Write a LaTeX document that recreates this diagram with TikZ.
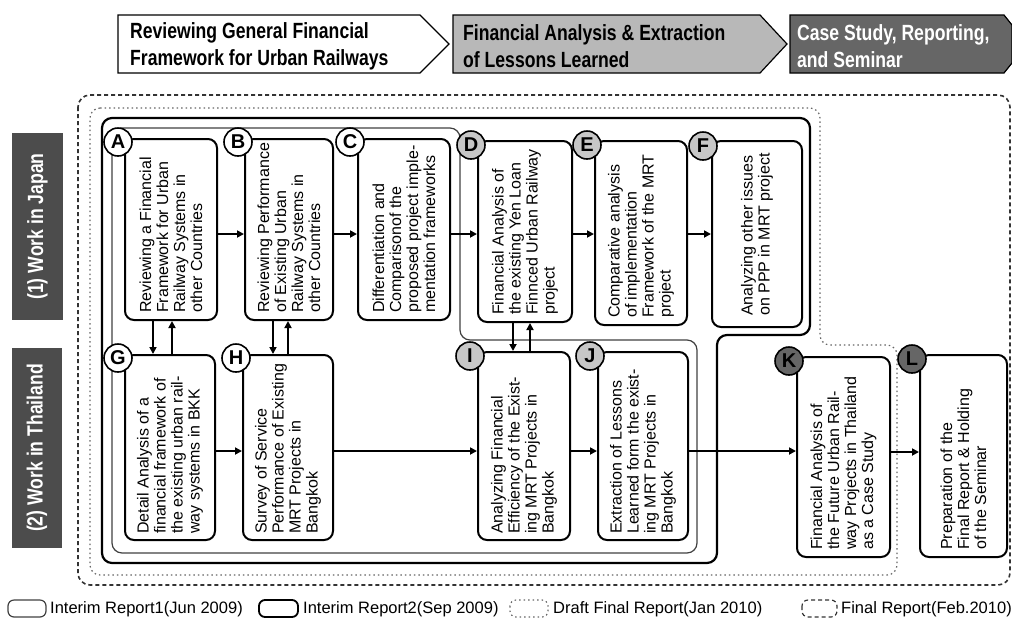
\documentclass[tikz,border=0pt]{standalone}
\usepackage{fontspec}
\setmainfont{Liberation Sans}
\newfontfamily\hfont[FakeStretch=0.8]{Liberation Sans}
\usetikzlibrary{arrows.meta,calc}
\begin{document}
\begin{tikzpicture}[x=1pt,y=-1pt,
  box/.style={draw, line width=2pt, rounded corners=9pt, fill=white, inner sep=0pt},
  txt/.style={rotate=90, anchor=west, align=left, inner sep=0pt, font=\fontsize{16}{17}\selectfont},
  cir/.style={circle, draw, line width=1.6pt, minimum size=28pt, inner sep=0pt, font=\bfseries\fontsize{20}{20}\selectfont},
  cw/.style={cir, fill=white},
  cg/.style={cir, fill=black!22},
  cd/.style={cir, fill=black!60},
  arr/.style={line width=1.7pt, -{Triangle[length=7pt,width=7pt]}},
  cA/.style={draw=black!75, line width=1.2pt, rounded corners=10pt},
  cB/.style={draw=black, line width=2.2pt, rounded corners=10pt},
  cC/.style={draw=black!60, line width=1.2pt, dash pattern=on 1.5pt off 3pt, rounded corners=10pt},
  cD/.style={draw=black!80, line width=1.6pt, dash pattern=on 4pt off 3pt, rounded corners=12pt},
  hdr/.style={draw, line width=1.2pt},
  htxt/.style={anchor=west, align=left, inner sep=0pt, font=\hfont\bfseries\fontsize{22}{27}\selectfont},
  side/.style={fill=black!70, inner sep=0pt},
  stxt/.style={rotate=90, text=white, inner sep=0pt, font=\hfont\bfseries\fontsize{22}{24}\selectfont},
  leg/.style={anchor=base west, inner sep=0pt, font=\fontsize{16.5}{18}\selectfont}
]
\useasboundingbox (0,0) rectangle (1012,625);

% header chevrons
\draw[hdr, fill=white] (118,15) -- (420,15) -- (449,44) -- (420,73) -- (118,73) -- cycle;
\node[htxt] (h1) at (130,46) {Reviewing General Financial\\Framework for Urban Railways};
\draw[hdr, fill=black!28] (453,15) -- (760,15) -- (787,44) -- (760,73) -- (453,73) -- cycle;
\node[htxt] (h2) at (463,46) {Financial Analysis \& Extraction\\of Lessons Learned};
\draw[hdr, fill=black!60] (790,15) -- (1004,15) -- (1012,25) -- (1012,63) -- (1004,73) -- (790,73) -- cycle;
\node[htxt, text=white] (h3) at (797,46) {Case Study, Reporting,\\and Seminar};

% side labels
\node[side, minimum width=51pt, minimum height=187pt] (jp) at (37.5,226.5) {};
\node[stxt] (jpt) at (jp.center) {(1) Work in Japan};
\node[side, minimum width=50pt, minimum height=200pt] (th) at (37,448) {};
\node[stxt] (tht) at (th.center) {(2) Work in Thailand};

% report contours
\draw[cD] (78,95) rectangle (1010,585);
\draw[cC] (90,108) -- (820,108) -- (820,345) -- (897,345) -- (897,575) -- (90,575) -- cycle;
\draw[cB] (102,118) -- (810,118) -- (810,335) -- (717,335) -- (717,563) -- (102,563) -- cycle;
\draw[cA] (112,128) -- (460,128) -- (460,340) -- (697,340) -- (697,553) -- (112,553) -- cycle;

% boxes
\node[box, minimum width=92pt, minimum height=181pt] (A) at (171,229.5) {};
\node[box, minimum width=88pt, minimum height=181pt] (B) at (289,229.5) {};
\node[box, minimum width=92pt, minimum height=181pt] (C) at (404,229.5) {};
\node[box, minimum width=94pt, minimum height=181pt] (D) at (525,231.5) {};
\node[box, minimum width=92pt, minimum height=184pt] (E) at (641,233) {};
\node[box, minimum width=90pt, minimum height=186pt] (F) at (757,234) {};
\node[box, minimum width=90pt, minimum height=185pt] (G) at (170,447.5) {};
\node[box, minimum width=90pt, minimum height=185pt] (H) at (288,447.5) {};
\node[box, minimum width=92pt, minimum height=188pt] (I) at (524,446) {};
\node[box, minimum width=90pt, minimum height=188pt] (J) at (643,446) {};
\node[box, minimum width=93pt, minimum height=200pt] (K) at (843.5,457) {};
\node[box, minimum width=87pt, minimum height=202pt] (L) at (963.5,456) {};

% box texts
\node[txt] (At) at ([yshift=8pt]A.south) {Reviewing a Financial\\Framework for Urban\\Railway Systems in\\other Countries};
\node[txt] (Bt) at ([yshift=8pt]B.south) {Reviewing Performance\\of Existing Urban\\Railway Systems in\\other Countries};
\node[txt] (Ct) at ([yshift=8pt]C.south) {Differentiation and\\Comparisonof the\\proposed project imple-\\mentation frameworks};
\node[txt] (Dt) at ([yshift=8pt]D.south) {Financial Analysis of\\the existing Yen Loan\\Finnced Urban Railway\\project};
\node[txt] (Et) at ([yshift=8pt]E.south) {Comparative analysis\\of implementation\\Framework of the MRT\\project};
\node[txt] (Ft) at ([yshift=12pt]F.south) {Analyzing other issues\\on PPP in MRT project};
\node[txt] (Gt) at ([yshift=7pt]G.south) {Detail Analysis of a\\financial framework of\\the existing urban rail-\\way systems in BKK};
\node[txt] (Ht) at ([yshift=7pt]H.south) {Survey of Service\\Performance of Existing\\MRT Projects in\\Bangkok};
\node[txt] (It) at ([yshift=7pt]I.south) {Analyzing Financial\\Efficiency of the Exist-\\ing MRT Projects in\\Bangkok};
\node[txt] (Jt) at ([yshift=7pt]J.south) {Extraction of Lessons\\Learned form the exist-\\ing MRT Projects in\\Bangkok};
\node[txt] (Kt) at ([yshift=8pt]K.south) {Financial Analysis of\\the Future Urban Rail-\\way Projects in Thailand\\as a Case Study};
\node[txt] (Lt) at ([yshift=8pt]L.south) {Preparation of the\\Final Report \& Holding\\of the Seminar};

% circles
\node[cw] (cA) at (118,142) {A};
\node[cw] (cB) at (238,142) {B};
\node[cw] (cC) at (350,142) {C};
\node[cg] (cD) at (471,145) {D};
\node[cg] (cE) at (587,145) {E};
\node[cg] (cF) at (703,146) {F};
\node[cw] (cG) at (118,358) {G};
\node[cw] (cH) at (236,358) {H};
\node[cg] (cI) at (470,356) {I};
\node[cg] (cJ) at (590,356) {J};
\node[cd] (cK) at (789,361) {K};
\node[cd] (cL) at (912,359) {L};

% horizontal arrows
\draw[arr] (A.east |- 0,234) -- (B.west |- 0,234);
\draw[arr] (B.east |- 0,234) -- (C.west |- 0,234);
\draw[arr] (C.east |- 0,234) -- (D.west |- 0,234);
\draw[arr] (D.east |- 0,234) -- (E.west |- 0,234);
\draw[arr] (E.east |- 0,234) -- (F.west |- 0,234);
\draw[arr] (G.east |- 0,451) -- (H.west |- 0,451);
\draw[arr] (H.east |- 0,451) -- (I.west |- 0,451);
\draw[arr] (I.east |- 0,451) -- (J.west |- 0,451);
\draw[arr] (J.east |- 0,451) -- (K.west |- 0,451);
\draw[arr] (K.east |- 0,452) -- (L.west |- 0,452);

% vertical arrows
\draw[arr] (A.south -| 153,0) -- (G.north -| 153,0);
\draw[arr] (G.north -| 172,0) -- (A.south -| 172,0);
\draw[arr] (B.south -| 273,0) -- (H.north -| 273,0);
\draw[arr] (H.north -| 288,0) -- (B.south -| 288,0);
\draw[arr] (D.south -| 513,0) -- (I.north -| 513,0);
\draw[arr] (I.north -| 530,0) -- (D.south -| 530,0);

% legend
\draw[cA, rounded corners=6pt] (8,600) rectangle (46,617);
\node[leg] (l1) at (50,613) {Interim Report1(Jun 2009)};
\draw[cB, line width=1.8pt, rounded corners=6pt] (259,600) rectangle (298,617);
\node[leg] (l2) at (303,613) {Interim Report2(Sep 2009)};
\draw[cC, rounded corners=6pt] (510,600) rectangle (548,617);
\node[leg] (l3) at (553,613) {Draft Final Report(Jan 2010)};
\draw[cD, line width=1.2pt, rounded corners=6pt] (802,600) rectangle (837,617);
\node[leg] (l4) at (841,613) {Final Report(Feb.2010)};
\end{tikzpicture}
\end{document}
